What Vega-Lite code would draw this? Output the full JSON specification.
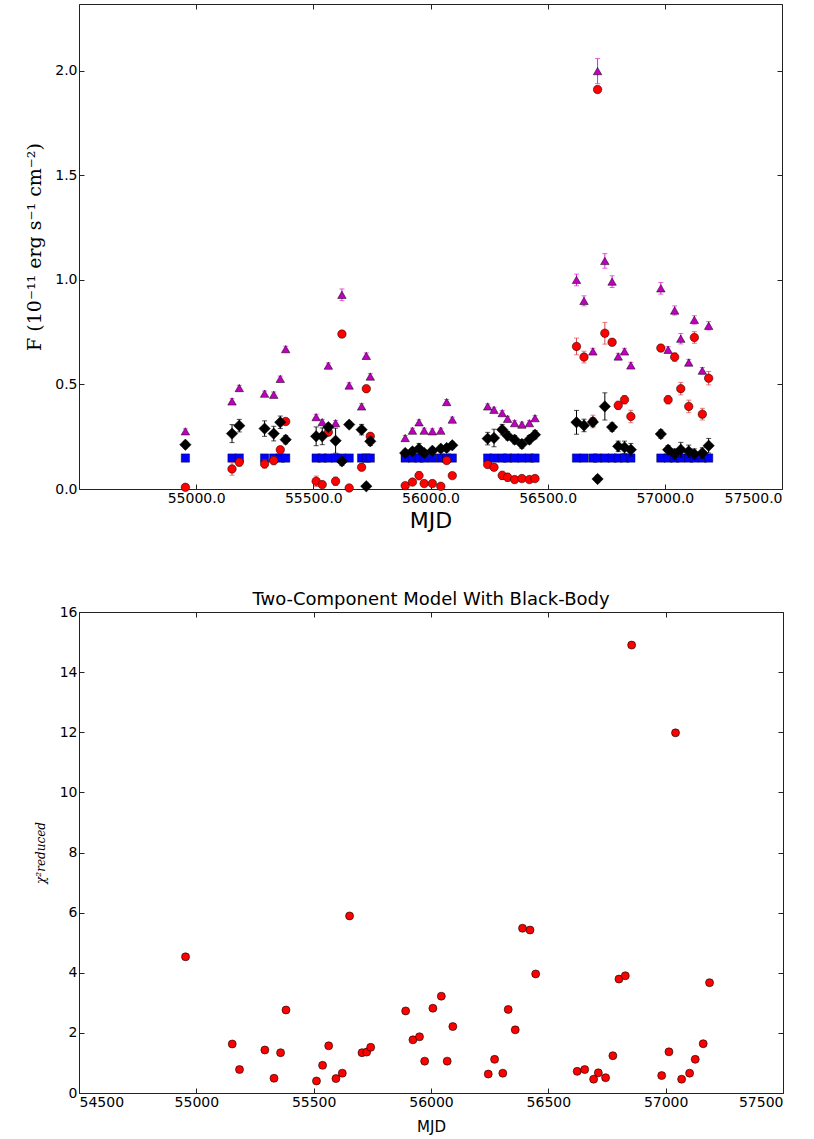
{
"$schema":"https://vega.github.io/schema/vega-lite/v6.json",
"background":"white",
"padding":{"left":25,"top":3,"right":2,"bottom":2},
"spacing":58,
"config":{
 "font":"DejaVu Sans",
 "view":{"stroke":"#222","strokeWidth":1},
 "axis":{"grid":false,"domain":false,"tickColor":"#222","tickSize":-5,"tickWidth":1,"labelColor":"#000","labelFont":"DejaVu Sans","labelFontSize":14,"labelPadding":7,"titleColor":"#000","titleFontWeight":"normal","titleFont":"DejaVu Sans"}
},
"datasets":{
"flux":[
{"m":54954,"s":"mag","f":0.276,"e":0.012},{"m":54954,"s":"red","f":0.008,"e":0.01},{"m":54954,"s":"blk","f":0.212,"e":0.015},{"m":54954,"s":"bb","f":0.148,"e":0},
{"m":55153,"s":"mag","f":0.419,"e":0.013},{"m":55153,"s":"red","f":0.096,"e":0.03},{"m":55153,"s":"blk","f":0.265,"e":0.043},{"m":55153,"s":"bb","f":0.148,"e":0},
{"m":55184,"s":"mag","f":0.483,"e":0.013},{"m":55184,"s":"red","f":0.128,"e":0.018},{"m":55184,"s":"blk","f":0.303,"e":0.03},{"m":55184,"s":"bb","f":0.148,"e":0},
{"m":55292,"s":"mag","f":0.456,"e":0.013},{"m":55292,"s":"red","f":0.120,"e":0.02},{"m":55292,"s":"blk","f":0.289,"e":0.037},{"m":55292,"s":"bb","f":0.148,"e":0},
{"m":55331,"s":"mag","f":0.451,"e":0.013},{"m":55331,"s":"red","f":0.136,"e":0.02},{"m":55331,"s":"blk","f":0.265,"e":0.035},{"m":55331,"s":"bb","f":0.148,"e":0},
{"m":55359,"s":"mag","f":0.527,"e":0.013},{"m":55359,"s":"red","f":0.188,"e":0.015},{"m":55359,"s":"blk","f":0.319,"e":0.03},{"m":55359,"s":"bb","f":0.148,"e":0},
{"m":55382,"s":"mag","f":0.669,"e":0.014},{"m":55382,"s":"red","f":0.323,"e":0.015},{"m":55382,"s":"blk","f":0.236,"e":0.02},{"m":55382,"s":"bb","f":0.148,"e":0},
{"m":55512,"s":"mag","f":0.344,"e":0.013},{"m":55512,"s":"red","f":0.037,"e":0.025},{"m":55512,"s":"blk","f":0.252,"e":0.045},{"m":55512,"s":"bb","f":0.148,"e":0},
{"m":55538,"s":"mag","f":0.320,"e":0.013},{"m":55538,"s":"red","f":0.021,"e":0.015},{"m":55538,"s":"blk","f":0.252,"e":0.04},{"m":55538,"s":"bb","f":0.148,"e":0},
{"m":55564,"s":"mag","f":0.590,"e":0.013},{"m":55564,"s":"red","f":0.272,"e":0.015},{"m":55564,"s":"blk","f":0.296,"e":0.015},{"m":55564,"s":"bb","f":0.148,"e":0},
{"m":55595,"s":"mag","f":0.315,"e":0.013},{"m":55595,"s":"red","f":0.037,"e":0.02},{"m":55595,"s":"blk","f":0.231,"e":0.06},{"m":55595,"s":"bb","f":0.148,"e":0},
{"m":55622,"s":"mag","f":0.929,"e":0.028},{"m":55622,"s":"red","f":0.741,"e":0.015},{"m":55622,"s":"blk","f":0.132,"e":0.02},{"m":55622,"s":"bb","f":0.148,"e":0},
{"m":55653,"s":"mag","f":0.495,"e":0.013},{"m":55653,"s":"red","f":0.005,"e":0.01},{"m":55653,"s":"blk","f":0.308,"e":0.015},{"m":55653,"s":"bb","f":0.148,"e":0},
{"m":55706,"s":"mag","f":0.395,"e":0.013},{"m":55706,"s":"red","f":0.104,"e":0.015},{"m":55706,"s":"blk","f":0.284,"e":0.025},{"m":55706,"s":"bb","f":0.148,"e":0},
{"m":55726,"s":"mag","f":0.637,"e":0.014},{"m":55726,"s":"red","f":0.480,"e":0.015},{"m":55726,"s":"blk","f":0.013,"e":0.015},{"m":55726,"s":"bb","f":0.148,"e":0},
{"m":55743,"s":"mag","f":0.538,"e":0.014},{"m":55743,"s":"red","f":0.252,"e":0.015},{"m":55743,"s":"blk","f":0.228,"e":0.02},{"m":55743,"s":"bb","f":0.148,"e":0},
{"m":55892,"s":"mag","f":0.244,"e":0.012},{"m":55892,"s":"red","f":0.016,"e":0.012},{"m":55892,"s":"blk","f":0.172,"e":0.015},{"m":55892,"s":"bb","f":0.148,"e":0},
{"m":55923,"s":"mag","f":0.279,"e":0.012},{"m":55923,"s":"red","f":0.033,"e":0.012},{"m":55923,"s":"blk","f":0.180,"e":0.015},{"m":55923,"s":"bb","f":0.148,"e":0},
{"m":55951,"s":"mag","f":0.319,"e":0.012},{"m":55951,"s":"red","f":0.064,"e":0.02},{"m":55951,"s":"blk","f":0.193,"e":0.025},{"m":55951,"s":"bb","f":0.148,"e":0},
{"m":55973,"s":"mag","f":0.279,"e":0.012},{"m":55973,"s":"red","f":0.026,"e":0.012},{"m":55973,"s":"blk","f":0.172,"e":0.015},{"m":55973,"s":"bb","f":0.148,"e":0},
{"m":56008,"s":"mag","f":0.276,"e":0.012},{"m":56008,"s":"red","f":0.026,"e":0.012},{"m":56008,"s":"blk","f":0.183,"e":0.015},{"m":56008,"s":"bb","f":0.148,"e":0},
{"m":56044,"s":"mag","f":0.279,"e":0.012},{"m":56044,"s":"red","f":0.013,"e":0.012},{"m":56044,"s":"blk","f":0.193,"e":0.015},{"m":56044,"s":"bb","f":0.148,"e":0},
{"m":56069,"s":"mag","f":0.416,"e":0.012},{"m":56069,"s":"red","f":0.136,"e":0.012},{"m":56069,"s":"blk","f":0.196,"e":0.015},{"m":56069,"s":"bb","f":0.148,"e":0},
{"m":56093,"s":"mag","f":0.332,"e":0.012},{"m":56093,"s":"red","f":0.064,"e":0.012},{"m":56093,"s":"blk","f":0.209,"e":0.015},{"m":56093,"s":"bb","f":0.148,"e":0},
{"m":56244,"s":"mag","f":0.395,"e":0.012},{"m":56244,"s":"red","f":0.117,"e":0.015},{"m":56244,"s":"blk","f":0.241,"e":0.03},{"m":56244,"s":"bb","f":0.148,"e":0},
{"m":56271,"s":"mag","f":0.379,"e":0.012},{"m":56271,"s":"red","f":0.104,"e":0.015},{"m":56271,"s":"blk","f":0.244,"e":0.042},{"m":56271,"s":"bb","f":0.148,"e":0},
{"m":56306,"s":"mag","f":0.363,"e":0.012},{"m":56306,"s":"red","f":0.065,"e":0.02},{"m":56306,"s":"blk","f":0.284,"e":0.025},{"m":56306,"s":"bb","f":0.148,"e":0},
{"m":56329,"s":"mag","f":0.336,"e":0.012},{"m":56329,"s":"red","f":0.056,"e":0.02},{"m":56329,"s":"blk","f":0.255,"e":0.02},{"m":56329,"s":"bb","f":0.148,"e":0},
{"m":56359,"s":"mag","f":0.315,"e":0.012},{"m":56359,"s":"red","f":0.045,"e":0.015},{"m":56359,"s":"blk","f":0.236,"e":0.02},{"m":56359,"s":"bb","f":0.148,"e":0},
{"m":56390,"s":"mag","f":0.308,"e":0.012},{"m":56390,"s":"red","f":0.050,"e":0.012},{"m":56390,"s":"blk","f":0.215,"e":0.02},{"m":56390,"s":"bb","f":0.148,"e":0},
{"m":56422,"s":"mag","f":0.315,"e":0.012},{"m":56422,"s":"red","f":0.045,"e":0.012},{"m":56422,"s":"blk","f":0.236,"e":0.02},{"m":56422,"s":"bb","f":0.148,"e":0},
{"m":56446,"s":"mag","f":0.339,"e":0.012},{"m":56446,"s":"red","f":0.050,"e":0.012},{"m":56446,"s":"blk","f":0.260,"e":0.02},{"m":56446,"s":"bb","f":0.148,"e":0},
{"m":56623,"s":"mag","f":1.000,"e":0.028},{"m":56623,"s":"red","f":0.682,"e":0.04},{"m":56623,"s":"blk","f":0.319,"e":0.057},{"m":56623,"s":"bb","f":0.148,"e":0},
{"m":56655,"s":"mag","f":0.900,"e":0.024},{"m":56655,"s":"red","f":0.631,"e":0.028},{"m":56655,"s":"blk","f":0.304,"e":0.03},{"m":56655,"s":"bb","f":0.148,"e":0},
{"m":56693,"s":"mag","f":0.658,"e":0.015},{"m":56693,"s":"red","f":0.323,"e":0.03},{"m":56693,"s":"blk","f":0.320,"e":0.02},{"m":56693,"s":"bb","f":0.148,"e":0},
{"m":56713,"s":"mag","f":1.999,"e":0.06},{"m":56713,"s":"red","f":1.911,"e":0.015},{"m":56713,"s":"blk","f":0.048,"e":0.015},{"m":56713,"s":"bb","f":0.148,"e":0},
{"m":56744,"s":"mag","f":1.091,"e":0.035},{"m":56744,"s":"red","f":0.745,"e":0.052},{"m":56744,"s":"blk","f":0.395,"e":0.065},{"m":56744,"s":"bb","f":0.148,"e":0},
{"m":56775,"s":"mag","f":0.992,"e":0.028},{"m":56775,"s":"red","f":0.702,"e":0.015},{"m":56775,"s":"blk","f":0.296,"e":0.02},{"m":56775,"s":"bb","f":0.148,"e":0},
{"m":56801,"s":"mag","f":0.634,"e":0.015},{"m":56801,"s":"red","f":0.400,"e":0.02},{"m":56801,"s":"blk","f":0.204,"e":0.025},{"m":56801,"s":"bb","f":0.148,"e":0},
{"m":56828,"s":"mag","f":0.658,"e":0.015},{"m":56828,"s":"red","f":0.427,"e":0.02},{"m":56828,"s":"blk","f":0.199,"e":0.03},{"m":56828,"s":"bb","f":0.148,"e":0},
{"m":56855,"s":"mag","f":0.591,"e":0.015},{"m":56855,"s":"red","f":0.347,"e":0.03},{"m":56855,"s":"blk","f":0.188,"e":0.03},{"m":56855,"s":"bb","f":0.148,"e":0},
{"m":56983,"s":"mag","f":0.960,"e":0.028},{"m":56983,"s":"red","f":0.674,"e":0.015},{"m":56983,"s":"blk","f":0.263,"e":0.02},{"m":56983,"s":"bb","f":0.148,"e":0},
{"m":57014,"s":"mag","f":0.666,"e":0.015},{"m":57014,"s":"red","f":0.427,"e":0.02},{"m":57014,"s":"blk","f":0.188,"e":0.02},{"m":57014,"s":"bb","f":0.148,"e":0},
{"m":57042,"s":"mag","f":0.854,"e":0.022},{"m":57042,"s":"red","f":0.631,"e":0.02},{"m":57042,"s":"blk","f":0.167,"e":0.025},{"m":57042,"s":"bb","f":0.148,"e":0},
{"m":57068,"s":"mag","f":0.719,"e":0.025},{"m":57068,"s":"red","f":0.480,"e":0.03},{"m":57068,"s":"blk","f":0.188,"e":0.035},{"m":57068,"s":"bb","f":0.148,"e":0},
{"m":57102,"s":"mag","f":0.605,"e":0.015},{"m":57102,"s":"red","f":0.395,"e":0.03},{"m":57102,"s":"blk","f":0.180,"e":0.03},{"m":57102,"s":"bb","f":0.148,"e":0},
{"m":57126,"s":"mag","f":0.809,"e":0.02},{"m":57126,"s":"red","f":0.725,"e":0.028},{"m":57126,"s":"blk","f":0.167,"e":0.025},{"m":57126,"s":"bb","f":0.148,"e":0},
{"m":57160,"s":"mag","f":0.566,"e":0.015},{"m":57160,"s":"red","f":0.358,"e":0.028},{"m":57160,"s":"blk","f":0.172,"e":0.025},{"m":57160,"s":"bb","f":0.148,"e":0},
{"m":57187,"s":"mag","f":0.781,"e":0.02},{"m":57187,"s":"red","f":0.530,"e":0.032},{"m":57187,"s":"blk","f":0.207,"e":0.035},{"m":57187,"s":"bb","f":0.148,"e":0}
],
"chi":[
{"m":54954,"c":4.53},{"m":55153,"c":1.63},{"m":55184,"c":0.78},{"m":55292,"c":1.43},{"m":55331,"c":0.49},{"m":55359,"c":1.34},{"m":55382,"c":2.76},
{"m":55512,"c":0.40},{"m":55538,"c":0.92},{"m":55564,"c":1.57},{"m":55595,"c":0.48},{"m":55622,"c":0.66},{"m":55653,"c":5.89},{"m":55706,"c":1.34},{"m":55726,"c":1.36},{"m":55743,"c":1.52},
{"m":55892,"c":2.73},{"m":55923,"c":1.77},{"m":55951,"c":1.87},{"m":55973,"c":1.06},{"m":56008,"c":2.82},{"m":56044,"c":3.22},{"m":56069,"c":1.06},{"m":56093,"c":2.21},
{"m":56244,"c":0.63},{"m":56271,"c":1.12},{"m":56306,"c":0.66},{"m":56329,"c":2.78},{"m":56359,"c":2.10},{"m":56390,"c":5.48},{"m":56422,"c":5.42},{"m":56446,"c":3.96},
{"m":56623,"c":0.72},{"m":56655,"c":0.78},{"m":56693,"c":0.46},{"m":56713,"c":0.67},{"m":56744,"c":0.51},{"m":56775,"c":1.24},{"m":56801,"c":3.79},{"m":56828,"c":3.90},{"m":56855,"c":14.9},
{"m":56983,"c":0.58},{"m":57014,"c":1.37},{"m":57042,"c":11.98},{"m":57068,"c":0.46},{"m":57102,"c":0.66},{"m":57126,"c":1.12},{"m":57160,"c":1.64},{"m":57187,"c":3.67}
]
},
"vconcat":[
{
 "width":703,"height":485,
 "data":{"name":"flux"},
 "resolve":{"axis":{"x":"independent","y":"independent"}},
 "layer":[
  {"transform":[{"filter":"datum.s==='bb'"}],
   "mark":{"type":"point","shape":"square","filled":true,"size":70,"color":"#0000ff","stroke":"#000","strokeWidth":0.4,"opacity":1},
   "encoding":{
    "x":{"field":"m","type":"quantitative","scale":{"domain":[54500,57500],"nice":false,"zero":false},"axis":{"orient":"bottom","values":[55000,55500,56000,56500,57000,57500],"format":".1f","title":"MJD","titleFontSize":22,"titlePadding":5}},
    "y":{"field":"f","type":"quantitative","scale":{"domain":[0,2.32],"nice":false,"zero":false},"axis":{"orient":"left","values":[0,0.5,1,1.5,2],"format":".1f","title":"F (10⁻¹¹ erg s⁻¹ cm⁻²)","titleFont":"DejaVu Serif","titleFontSize":19,"titlePadding":10}}}},
  {"transform":[{"filter":"datum.s==='red'"}],
   "mark":{"type":"errorbar","ticks":true,"size":5,"thickness":1,"color":"#e04848"},
   "encoding":{
    "x":{"field":"m","type":"quantitative","scale":{"domain":[54500,57500],"nice":false,"zero":false},"axis":null},
    "y":{"field":"f","type":"quantitative","scale":{"domain":[0,2.32],"nice":false,"zero":false},"axis":null},
    "yError":{"field":"e"}}},
  {"transform":[{"filter":"datum.s==='red'"}],
   "mark":{"type":"point","shape":"circle","filled":true,"size":72,"color":"#ff0000","stroke":"#000","strokeWidth":0.5,"opacity":1},
   "encoding":{
    "x":{"field":"m","type":"quantitative","scale":{"domain":[54500,57500],"nice":false,"zero":false},"axis":null},
    "y":{"field":"f","type":"quantitative","scale":{"domain":[0,2.32],"nice":false,"zero":false},"axis":null}}},
  {"transform":[{"filter":"datum.s==='mag'"}],
   "mark":{"type":"errorbar","ticks":true,"size":5,"thickness":1,"color":"#e020e0"},
   "encoding":{
    "x":{"field":"m","type":"quantitative","scale":{"domain":[54500,57500],"nice":false,"zero":false},"axis":null},
    "y":{"field":"f","type":"quantitative","scale":{"domain":[0,2.32],"nice":false,"zero":false},"axis":null},
    "yError":{"field":"e"}}},
  {"transform":[{"filter":"datum.s==='mag'"}],
   "mark":{"type":"point","shape":"triangle-up","filled":true,"size":72,"color":"#bf00bf","stroke":"#000","strokeWidth":0.5,"opacity":1},
   "encoding":{
    "x":{"field":"m","type":"quantitative","scale":{"domain":[54500,57500],"nice":false,"zero":false},"axis":null},
    "y":{"field":"f","type":"quantitative","scale":{"domain":[0,2.32],"nice":false,"zero":false},"axis":null}}},
  {"transform":[{"filter":"datum.s==='blk'"}],
   "mark":{"type":"errorbar","ticks":true,"size":5,"thickness":1,"color":"#000"},
   "encoding":{
    "x":{"field":"m","type":"quantitative","scale":{"domain":[54500,57500],"nice":false,"zero":false},"axis":null},
    "y":{"field":"f","type":"quantitative","scale":{"domain":[0,2.32],"nice":false,"zero":false},"axis":null},
    "yError":{"field":"e"}}},
  {"transform":[{"filter":"datum.s==='blk'"}],
   "mark":{"type":"point","shape":"diamond","filled":true,"size":130,"color":"#000","stroke":"#000","strokeWidth":0.5,"opacity":1},
   "encoding":{
    "x":{"field":"m","type":"quantitative","scale":{"domain":[54500,57500],"nice":false,"zero":false},"axis":{"orient":"top","values":[54500,55000,55500,56000,56500,57000,57500],"labels":false,"title":null}},
    "y":{"field":"f","type":"quantitative","scale":{"domain":[0,2.32],"nice":false,"zero":false},"axis":{"orient":"right","values":[0,0.5,1,1.5,2],"labels":false,"title":null}}}}
 ]
},
{
 "width":704,"height":481,
 "title":{"text":"Two-Component Model With Black-Body","fontSize":18,"fontWeight":"normal","font":"DejaVu Sans","color":"#000","offset":-4},
 "data":{"name":"chi"},
 "resolve":{"axis":{"x":"independent","y":"independent"}},
 "layer":[
  {"mark":{"type":"point","shape":"circle","filled":true,"size":64,"color":"#ff0000","stroke":"#000","strokeWidth":0.6,"opacity":1},
   "encoding":{
    "x":{"field":"m","type":"quantitative","scale":{"domain":[54500,57500],"nice":false,"zero":false},"axis":{"orient":"bottom","values":[54500,55000,55500,56000,56500,57000,57500],"format":"d","title":"MJD","titleFontSize":15,"titlePadding":10}},
    "y":{"field":"c","type":"quantitative","scale":{"domain":[0,16],"nice":false,"zero":false},"axis":{"orient":"left","values":[0,2,4,6,8,10,12,14,16],"format":"d","title":"χ²reduced","titleFont":"DejaVu Serif","titleFontStyle":"italic","titleFontSize":12,"titlePadding":12}}}},
  {"mark":{"type":"point","shape":"circle","filled":true,"size":64,"opacity":0},
   "encoding":{
    "x":{"field":"m","type":"quantitative","scale":{"domain":[54500,57500],"nice":false,"zero":false},"axis":{"orient":"top","values":[54500,55000,55500,56000,56500,57000,57500],"labels":false,"title":null}},
    "y":{"field":"c","type":"quantitative","scale":{"domain":[0,16],"nice":false,"zero":false},"axis":{"orient":"right","values":[0,2,4,6,8,10,12,14,16],"labels":false,"title":null}}}}
 ]
}
]
}
